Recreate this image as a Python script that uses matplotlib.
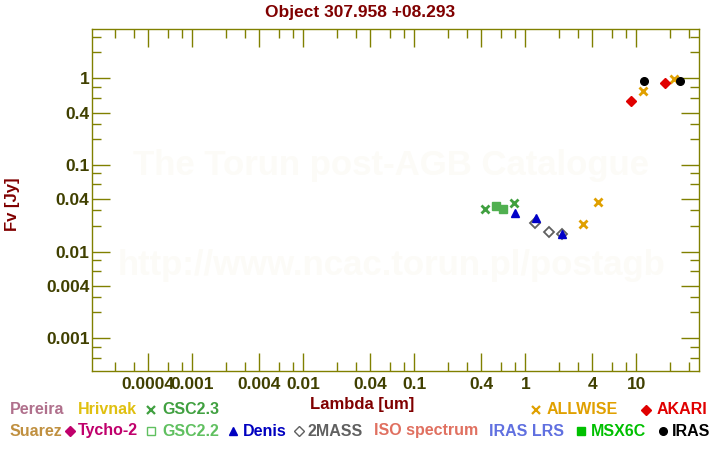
import numpy as np
import matplotlib.pyplot as plt
from matplotlib.ticker import FixedLocator, FixedFormatter

plt.rcParams['font.family'] = ['Liberation Sans', 'DejaVu Sans']
plt.rcParams['font.weight'] = 'bold'

# photometry (wavelength in um, flux in Jy)
gsc23_x = [0.436, 0.796]
gsc23_y = [0.0308, 0.0362]
gsc22_x = [0.548, 0.634]
gsc22_y = [0.0334, 0.0308]
denis_x = [0.813, 1.25, 2.15]
denis_y = [0.0277, 0.0243, 0.0159]
mass2_x = [1.22, 1.64, 2.15]
mass2_y = [0.0213, 0.0167, 0.0159]
allwise_x = [3.33, 4.55, 11.6, 22.0]
allwise_y = [0.0207, 0.0371, 0.708, 0.98]
akari_x = [9.0, 18.0]
akari_y = [0.543, 0.89]
iras_x = [11.8, 24.9]
iras_y = [0.923, 0.923]

W, H = 720, 450
fig = plt.figure(figsize=(7.2, 4.5), dpi=100)
ax = fig.add_axes([92.3 / W, 1 - 371 / H, (699.3 - 92.3) / W, (371 - 29.3) / H])
ax.set_xscale('log')
ax.set_yscale('log')
ax.set_xlim(1.256e-4, 36.95)
ax.set_ylim(4.21e-4, 3.67)

olive = '#808000'
lab = '#404000'
for s in ax.spines.values():
    s.set_color(olive)
    s.set_linewidth(1)

decades = [10.0 ** k for k in range(-5, 3)]
maj = [d * m for d in decades for m in (1, 4)]
mnr = [d * m for d in decades for m in (2, 3, 6, 8)]

def fmt(v):
    s = ('%.6f' % v).rstrip('0').rstrip('.')
    return s

ax.xaxis.set_major_locator(FixedLocator(maj))
ax.xaxis.set_major_formatter(FixedFormatter([fmt(v) for v in maj]))
ax.xaxis.set_minor_locator(FixedLocator(mnr))
ax.yaxis.set_major_locator(FixedLocator(maj))
ax.yaxis.set_major_formatter(FixedFormatter([fmt(v) for v in maj]))
ax.yaxis.set_minor_locator(FixedLocator(mnr))
ax.xaxis.set_minor_formatter(FixedFormatter([]))
ax.yaxis.set_minor_formatter(FixedFormatter([]))
ax.tick_params(which='both', direction='in', top=True, right=True, color=olive, width=1,
               labelcolor=lab, labelsize=12.5)
ax.tick_params(which='major', length=13)
ax.tick_params(which='minor', length=6.5)
ax.tick_params(axis='x', pad=4)
ax.tick_params(axis='y', pad=2)

# faint watermark
fig.text(133 / W, 1 - 175 / H, 'The Torun post-AGB Catalogue', color='#fcfbf7',
         fontsize=25, fontweight='bold', va='baseline', zorder=0)
fig.text(118 / W, 1 - 275 / H, 'http://www.ncac.torun.pl/postagb', color='#fcfbf7',
         fontsize=25, fontweight='bold', va='baseline', zorder=0)

ax.plot(gsc23_x, gsc23_y, 'x', color='#40a040', ms=5.5, mew=2, ls='none')
ax.plot(gsc22_x, gsc22_y, 's', color='#50b050', ms=5.5, ls='none')
ax.plot(mass2_x, mass2_y, 'D', mfc='white', mec='#606060', ms=5.5, mew=1.3, ls='none')
ax.plot(denis_x, denis_y, '^', color='#0000c8', ms=6, ls='none')
ax.plot(allwise_x, allwise_y, 'x', color='#e0a000', ms=5.5, mew=2, ls='none')
ax.plot(akari_x, akari_y, 'D', color='#e00000', ms=5.5, ls='none')
ax.plot(iras_x, iras_y, 'o', color='black', ms=5.5, ls='none')

fig.text(360 / W, 1 - 12 / H, 'Object 307.958 +08.293', color='#800000', fontsize=12.5,
         fontweight='bold', ha='center', va='center')
fig.text(12 / W, 1 - 204 / H, 'Fv [Jy]', color='#800000', fontsize=12, fontweight='bold',
         rotation=90, ha='center', va='center')
fig.text(362 / W, 1 - 404 / H, 'Lambda [um]', color='#800000', fontsize=12,
         fontweight='bold', ha='center', va='center')

# legend rows
legend_items = [
    # (marker, marker x, text x, row y, label, color, mfc)
    (None, 0, 10, 410, 'Pereira', '#b0708c', None),
    (None, 0, 78, 410, 'Hrivnak', '#e0c010', None),
    ('x', 151, 162, 410, 'GSC2.3', '#40a040', None),
    ('x', 536, 547, 410, 'ALLWISE', '#e0a000', None),
    ('D', 646, 657, 410, 'AKARI', '#e00000', None),
    (None, 0, 10, 431, 'Suarez', '#c09040', None),
    ('D', 70, 78, 431, 'Tycho-2', '#c0006c', None),
    ('s', 151, 162, 431, 'GSC2.2', '#60c060', 'white'),
    ('^', 233, 243, 431, 'Denis', '#0000c0', None),
    ('D', 299, 308, 431, '2MASS', '#606060', 'white'),
    (None, 0, 374, 431, 'ISO spectrum', '#e07060', None),
    (None, 0, 489, 431, 'IRAS LRS', '#6070e0', None),
    ('s', 581, 591, 431, 'MSX6C', '#00c000', None),
    ('o', 663, 672, 431, 'IRAS', 'black', None),
]
for mk, mx, tx, ty, text, c, mfc in legend_items:
    fig.text(tx / W, 1 - ty / H, text, color=c, fontsize=11.5, fontweight='bold',
             ha='left', va='center')
    if mk is not None:
        fig.lines.append(plt.Line2D([mx / W], [1 - ty / H], marker=mk, color=c,
                                    mfc=mfc if mfc else c, mec=c, ms=5.5,
                                    mew=1.6 if mk == 'x' else 1,
                                    transform=fig.transFigure, figure=fig))

fig.savefig('out.png', dpi=100)
